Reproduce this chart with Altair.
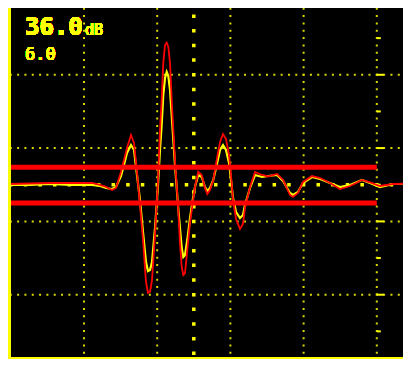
import altair as alt
import pandas as pd

# ---- data (x in screen divisions, amplitude in divisions) ----
time_div = [-0.025, 0.262, 0.536, 0.809, 1.109, 1.219, 1.301, 1.383, 1.437, 1.505,
            1.546, 1.587, 1.642, 1.683, 1.724, 1.765, 1.806, 1.847, 1.874, 1.902,
            1.929, 1.970, 2.011, 2.038, 2.061, 2.083, 2.107, 2.130, 2.152, 2.175,
            2.198, 2.220, 2.243, 2.284, 2.311, 2.335, 2.357, 2.380, 2.411, 2.448,
            2.485, 2.516, 2.561, 2.608, 2.653, 2.684, 2.721, 2.766, 2.813, 2.858,
            2.899, 2.940, 2.981, 3.008, 3.036, 3.077, 3.131, 3.172, 3.199, 3.268,
            3.336, 3.432, 3.514, 3.637, 3.719, 3.814, 3.855, 3.923, 3.992, 4.115,
            4.224, 4.361, 4.497, 4.634, 4.798, 4.907, 5.044, 5.221, 5.467]

red_amp = [0.010, 0.017, 0.024, 0.024, 0.024, -0.003, -0.030, -0.072, -0.044, 0.174,
           0.338, 0.501, 0.679, 0.570, 0.174, -0.276, -0.754, -1.327, -1.477, -1.463,
           -1.299, -0.685, 0.065, 0.747, 1.156, 1.661, 1.906, 1.938, 1.879, 1.661,
           1.156, 0.747, 0.338, -0.276, -0.795, -1.122, -1.231, -1.204, -0.890, -0.522,
           -0.249, -0.031, 0.178, 0.133, -0.044, -0.126, -0.072, 0.065, 0.338, 0.583,
           0.692, 0.624, 0.406, 0.133, -0.208, -0.467, -0.603, -0.535, -0.317, -0.031,
           0.174, 0.133, 0.113, 0.147, 0.065, -0.140, -0.167, -0.112, 0.038, 0.119,
           0.092, 0.024, -0.058, -0.017, 0.065, 0.031, -0.017, 0.010, 0.017]

yellow_amp = [-0.003, -0.003, 0.010, -0.003, -0.003, -0.017, -0.044, -0.058, -0.031, 0.119,
              0.270, 0.433, 0.542, 0.474, 0.133, -0.208, -0.645, -1.054, -1.177, -1.163,
              -1.054, -0.590, -0.003, 0.474, 0.815, 1.224, 1.456, 1.538, 1.483, 1.293,
              0.952, 0.611, 0.270, -0.276, -0.590, -0.863, -0.986, -0.958, -0.754, -0.454,
              -0.208, -0.031, 0.133, 0.106, -0.031, -0.085, -0.044, 0.065, 0.270, 0.474,
              0.542, 0.474, 0.297, 0.065, -0.181, -0.372, -0.454, -0.413, -0.276, -0.044,
              0.133, 0.106, 0.119, 0.133, 0.051, -0.112, -0.140, -0.099, 0.024, 0.106,
              0.078, 0.024, -0.031, -0.003, 0.065, 0.024, -0.031, 0.010, 0.010]

gate_levels = [0.24, -0.25]
gate_start = [-0.02, -0.02]
gate_end = [5.0, 5.0]

vgrid_x = [1, 2, 3, 4, 5]
hgrid_y = [1.5, 0.5, -0.5, -1.5]
center_x = [2.5]
center_y = [0.0]
long_tick_y = [1.5, 0.5, -0.5, -1.5]
short_tick_y = [2.0, 1.0, 0.0, -1.0, -2.0]
marker_x = 5.0

gain_text = "36.0"
gain_unit = "dB"
step_text = "6.0"

# ---- styling ----
W, H = 395, 351
YEL = "#ffff00"
DOT = "#d9d900"
RED = "#ff0000"

xs = alt.Scale(domain=[-0.0383, 5.358], nice=False, zero=False)
ys = alt.Scale(domain=[-2.377, 2.411], nice=False, zero=False)


def X(f):
    return alt.X(f, type="quantitative", scale=xs, axis=None)


def Y(f):
    return alt.Y(f, type="quantitative", scale=ys, axis=None)


wave = pd.DataFrame({"t": time_div, "red": red_amp, "yel": yellow_amp})
vgrid = pd.DataFrame({"x": vgrid_x, "y0": [2.5] * len(vgrid_x), "y1": [-2.6] * len(vgrid_x)})
hgrid = pd.DataFrame({"y": hgrid_y, "x0": [0.0] * len(hgrid_y), "x1": [5.6] * len(hgrid_y)})
cv = pd.DataFrame({"x": center_x, "y0": [2.5], "y1": [-2.6]})
ch = pd.DataFrame({"y": center_y, "x0": [0.0], "x1": [5.6]})
lt = pd.DataFrame({"x": [marker_x] * len(long_tick_y), "y": long_tick_y})
st = pd.DataFrame({"x": [marker_x] * len(short_tick_y), "y": short_tick_y})
gates = pd.DataFrame({"y": gate_levels, "x0": gate_start, "x1": gate_end})

vgrid_l = alt.Chart(vgrid).mark_rule(
    color=DOT, strokeWidth=2, strokeDash=[2, 5.32], strokeDashOffset=1
).encode(x=X("x"), y=Y("y0"), y2="y1")

hgrid_l = alt.Chart(hgrid).mark_rule(
    color=DOT, strokeWidth=2, strokeDash=[2, 5.32], strokeDashOffset=1
).encode(y=Y("y"), x=X("x0"), x2="x1")

cv_l = alt.Chart(cv).mark_rule(
    color=YEL, strokeWidth=3.5, strokeDash=[3.5, 11.16], strokeDashOffset=1.75
).encode(x=X("x"), y=Y("y0"), y2="y1")

ch_l = alt.Chart(ch).mark_rule(
    color=YEL, strokeWidth=3.5, strokeDash=[3.5, 11.14], strokeDashOffset=1.75
).encode(y=Y("y"), x=X("x0"), x2="x1")

lt_l = alt.Chart(lt).mark_tick(
    color=YEL, orient="horizontal", size=7, thickness=2, xOffset=3.5, opacity=1
).encode(x=X("x"), y=Y("y"))

st_l = alt.Chart(st).mark_tick(
    color=YEL, orient="horizontal", size=4, thickness=2, xOffset=2, opacity=1
).encode(x=X("x"), y=Y("y"))

yel_l = alt.Chart(wave).mark_line(color=YEL, strokeWidth=2.2).encode(
    x=X("t"), y=Y("yel"), order="t:Q"
)
red_l = alt.Chart(wave).mark_line(color=RED, strokeWidth=1.8).encode(
    x=X("t"), y=Y("red"), order="t:Q"
)

gate_l = alt.Chart(gates).mark_rule(color=RED, strokeWidth=5).encode(
    y=Y("y"), x=X("x0"), x2="x1"
)

left_border = alt.Chart(wave).mark_rule(color=YEL, strokeWidth=2).encode(
    x=alt.value(1.2), y=alt.value(0), y2=alt.value(H)
)
bottom_border = alt.Chart(wave).mark_rule(color=YEL, strokeWidth=2).encode(
    y=alt.value(H - 1), x=alt.value(0), x2=alt.value(W)
)

t1 = alt.Chart(wave).mark_text(
    text=gain_text, color=YEL, font="DejaVu Sans Mono", fontWeight="bold",
    fontSize=24, align="left", baseline="alphabetic"
).encode(x=alt.value(17), y=alt.value(27))
t2 = alt.Chart(wave).mark_text(
    text=gain_unit, color=YEL, font="DejaVu Sans Mono", fontSize=15,
    align="left", baseline="alphabetic"
).encode(x=alt.value(77), y=alt.value(27))
t3 = alt.Chart(wave).mark_text(
    text=step_text, color=YEL, font="DejaVu Sans Mono", fontSize=17,
    align="left", baseline="alphabetic"
).encode(x=alt.value(17), y=alt.value(52))

chart = alt.layer(
    vgrid_l, hgrid_l, cv_l, ch_l, lt_l, st_l, yel_l, red_l, gate_l,
    left_border, bottom_border, t1, t2, t3
).properties(
    width=W, height=H, padding=0, background="#000000",
    autosize=alt.AutoSizeParams(type="none")
).configure_view(stroke=None, fill="#000000")

chart.save("out.html", embed_options={"renderer": "svg", "actions": False})
